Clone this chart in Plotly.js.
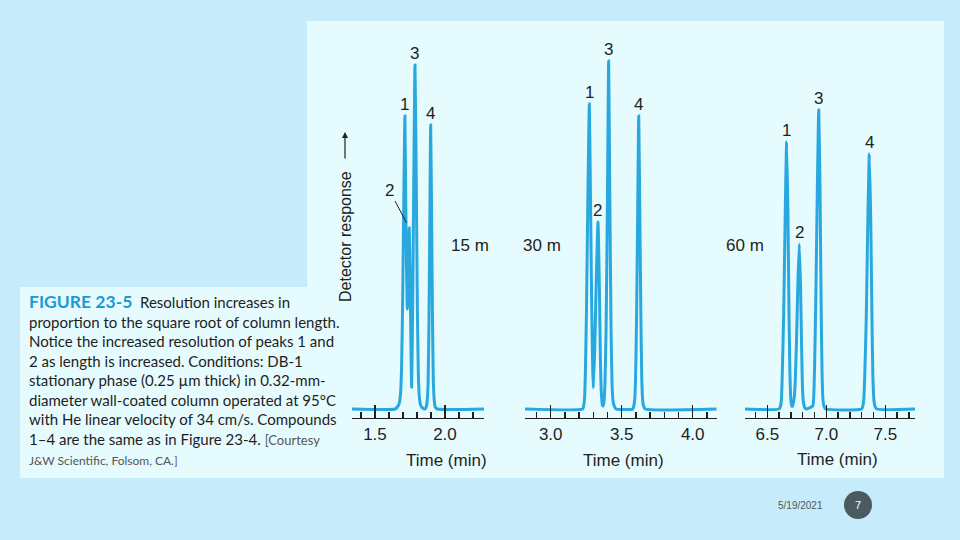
<!DOCTYPE html>
<html><head><meta charset="utf-8">
<script src="https://cdn.plot.ly/plotly-3.0.1.min.js"></script>
<style>html,body{margin:0;padding:0;background:#c6ecfc;}#chart{width:960px;height:540px;}</style>
</head><body><div id="chart"></div>
<script>
// ---------- DATA ----------
const columnLengths = ['15 m', '30 m', '60 m'];
const peakLabels = ['1', '2', '3', '4'];

// 15 m column chromatogram (time in min, detector response in arbitrary units)
const time15 = [1.336,1.645,1.660,1.672,1.682,1.690,1.698,1.706,1.714,1.722,1.731,1.738,1.745,1.753,1.762,1.770,1.778,1.786,1.795,1.803,1.810,1.817,1.826,1.840,1.858,1.866,1.873,1.880,1.886,1.892,1.898,1.905,1.911,1.917,1.924,1.931,1.945,2.279];
const resp15 = [0,0,2,5,14,40,110,210,293,180,100,140,181,110,22,110,240,344,230,100,35,12,4,1,0,2,8,28,90,190,284,190,90,28,8,2,0,0];
const peakTime15 = [1.714,1.745,1.786,1.898];
const peakResp15 = [293,181,344,284];

// 30 m column chromatogram
const time30 = [2.819,3.225,3.232,3.238,3.244,3.252,3.262,3.272,3.281,3.289,3.296,3.300,3.310,3.321,3.333,3.343,3.350,3.357,3.364,3.368,3.374,3.382,3.390,3.399,3.408,3.417,3.425,3.432,3.439,3.447,3.460,3.578,3.585,3.592,3.598,3.605,3.612,3.620,3.628,3.635,3.641,3.647,3.654,3.665,4.169];
const resp30 = [0,0,3,10,35,100,215,305,200,100,40,21,60,130,187,120,50,15,4,3,6,25,80,200,348,200,80,25,8,3,0,0,3,10,33,95,190,293,190,95,33,10,3,0,0];
const peakTime30 = [3.272,3.333,3.408,3.620];
const peakResp30 = [305,187,348,293];

// 60 m column chromatogram
const time60 = [6.311,6.600,6.612,6.620,6.627,6.639,6.652,6.664,6.675,6.684,6.692,6.699,6.707,6.714,6.724,6.730,6.737,6.747,6.759,6.771,6.782,6.791,6.798,6.805,6.815,6.830,6.885,6.893,6.900,6.911,6.924,6.936,6.947,6.956,6.964,6.971,6.980,6.995,7.300,7.310,7.318,7.326,7.339,7.352,7.365,7.377,7.387,7.395,7.403,7.412,7.428,7.752];
const resp60 = [0,0,3,10,35,96,196,267,196,96,35,10,3,3,8,14,28,65,125,165,121,60,22,8,2,0,3,11,38,108,220,299,220,108,38,11,3,0,0,3,10,33,92,188,255,188,92,33,10,3,0,0];
const peakTime60 = [6.664,6.771,6.936,7.365];
const peakResp60 = [267,165,299,255];

const captionLines = [
  '<span style="color:#1d9ad6;font-size:17.5px"><b>FIGURE 23-5</b></span>  Resolution increases in',
  'proportion to the square root of column length.',
  'Notice the increased resolution of peaks 1 and',
  '2 as length is increased. Conditions: DB-1',
  'stationary phase (0.25 \u00b5m thick) in 0.32-mm-',
  'diameter wall-coated column operated at 95\u00b0C',
  'with He linear velocity of 34 cm/s. Compounds',
  '1\u20134 are the same as in Figure 23-4. <span style="color:#555;font-size:13px">[Courtesy</span>',
  '<span style="color:#555;font-size:12px">J&W Scientific, Folsom, CA.]</span>'
];
const footerDate = '5/19/2021';
const pageNumber = '7';

// ---------- LAYOUT HELPERS ----------
const W = 960, H = 540;
const px = x => x / W;
const py = y => 1 - y / H;
const ink = '#231f20';
const lineBlue = '#29a8e0';

const panels = [
  {t: time15, r: resp15, pt: peakTime15, pr: peakResp15, dom: [352, 484], range: [1.336, 2.279], lenPos: [470, 245], titlePos: [446, 460]},
  {t: time30, r: resp30, pt: peakTime30, pr: peakResp30, dom: [525, 716.7], range: [2.819, 4.169], lenPos: [541.7, 245], titlePos: [623, 460]},
  {t: time60, r: resp60, pt: peakTime60, pr: peakResp60, dom: [745, 915], range: [6.311, 7.752], lenPos: [745, 246], titlePos: [837, 459]}
];

const traces = [];
const layout = {
  width: W, height: H,
  margin: {l: 0, r: 0, t: 0, b: 0},
  paper_bgcolor: '#c6ecfc',
  plot_bgcolor: 'rgba(0,0,0,0)',
  showlegend: false,
  font: {family: 'Liberation Sans, Arial, sans-serif', color: ink, size: 16},
  shapes: [
    {type: 'rect', xref: 'paper', yref: 'paper', x0: px(307), x1: px(944), y0: py(478), y1: py(21), fillcolor: '#e6fbfe', line: {width: 0}, layer: 'below'},
    {type: 'rect', xref: 'paper', yref: 'paper', x0: px(20), x1: px(307.5), y0: py(478), y1: py(287), fillcolor: '#e6fbfe', line: {width: 0}, layer: 'below'},
    {type: 'circle', xref: 'paper', yref: 'paper', x0: px(844), x1: px(872), y0: py(519), y1: py(491), fillcolor: '#4b5a61', line: {width: 0}, layer: 'below'}
  ],
  annotations: []
};

panels.forEach((p, i) => {
  const s = i === 0 ? '' : String(i + 1);
  traces.push({
    x: p.t, y: p.r, type: 'scatter', mode: 'lines',
    xaxis: 'x' + s, yaxis: 'y' + s,
    line: {color: lineBlue, width: 3, shape: 'spline', smoothing: 0.5},
    hoverinfo: 'skip'
  });
  layout['xaxis' + s] = {
    domain: [px(p.dom[0]), px(p.dom[1])], range: p.range, anchor: 'y' + s,
    showline: true, linecolor: ink, linewidth: 1.3,
    ticks: 'inside', ticklen: 13, tickwidth: 1.3, tickcolor: ink,
    tick0: 0, dtick: 0.5, tickformat: '.1f',
    minor: {tick0: 0, dtick: 0.1, ticks: 'inside', ticklen: 6, tickwidth: 1.3, tickcolor: ink, showgrid: false},
    showgrid: false, zeroline: false, fixedrange: true,
    tickfont: {size: 17, color: ink}
  };
  layout['yaxis' + s] = {
    domain: [py(418), py(30)], range: [-9, 379], anchor: 'x' + s,
    visible: false, fixedrange: true
  };
  layout.annotations.push({xref: 'paper', yref: 'paper', x: px(p.lenPos[0]), y: py(p.lenPos[1]), text: columnLengths[i], showarrow: false, font: {size: 17}, xanchor: 'center', yanchor: 'middle'});
  layout.annotations.push({xref: 'paper', yref: 'paper', x: px(p.titlePos[0]), y: py(p.titlePos[1]), text: 'Time (min)', showarrow: false, font: {size: 17}, xanchor: 'center', yanchor: 'middle'});
  p.pt.forEach((t, k) => {
    if (i === 0 && k === 1) {
      layout.annotations.push({xref: 'x' + s, yref: 'y' + s, x: t, y: p.pr[k], text: peakLabels[k], showarrow: true, arrowhead: 0, arrowwidth: 1, arrowcolor: ink, ax: -20, ay: -38, standoff: 6, font: {size: 17}});
    } else {
      layout.annotations.push({xref: 'x' + s, yref: 'y' + s, x: t, y: p.pr[k], text: peakLabels[k], showarrow: false, yshift: 12, font: {size: 17}, xanchor: 'center', yanchor: 'middle'});
    }
  });
});

// y-axis title and arrow
layout.annotations.push({xref: 'paper', yref: 'paper', x: px(345), y: py(237), text: 'Detector response', textangle: -90, showarrow: false, font: {size: 16}, xanchor: 'center', yanchor: 'middle'});
layout.annotations.push({xref: 'paper', yref: 'paper', x: px(345), y: py(132), text: '', showarrow: true, axref: 'pixel', ayref: 'pixel', ax: 0, ay: 28, arrowhead: 2, arrowsize: 1, arrowwidth: 1.2, arrowcolor: ink, standoff: 0});

// caption
const capY = [301.7, 321.7, 341, 360.5, 380, 399.5, 419, 439.3, 460];
captionLines.forEach((txt, k) => {
  layout.annotations.push({xref: 'paper', yref: 'paper', x: px(27), y: py(capY[k]), text: txt, showarrow: false, xanchor: 'left', yanchor: 'middle', font: {family: 'Lato, Noto Sans, sans-serif', size: 15, color: '#1e1e1e'}});
});

// footer
layout.annotations.push({xref: 'paper', yref: 'paper', x: px(800), y: py(505), text: footerDate, showarrow: false, font: {size: 10, color: '#555'}, xanchor: 'center', yanchor: 'middle'});
layout.annotations.push({xref: 'paper', yref: 'paper', x: px(858), y: py(505), text: pageNumber, showarrow: false, font: {size: 11, color: '#ffffff'}, xanchor: 'center', yanchor: 'middle'});

Plotly.newPlot('chart', traces, layout, {displayModeBar: false, staticPlot: true});
</script>
</body></html>
